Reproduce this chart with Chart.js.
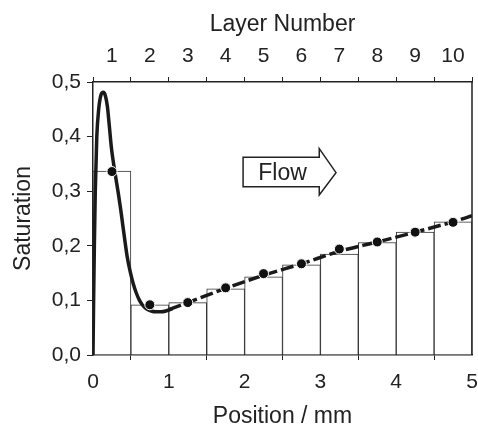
<!DOCTYPE html>
<html lang="en">
<head>
    <meta charset="UTF-8">
    <title>Saturation per layer</title>
    <script src="https://cdn.jsdelivr.net/npm/chart.js"></script>
    <style>
        html, body { margin: 0; padding: 0; background: #fff; }
        #wrap { width: 478px; height: 428px; }
    </style>
</head>
<body>
<div id="wrap"><canvas id="satChart"></canvas></div>
<script>
    // layer centres (mm) and labels for the top axis
    const layerPos = [0.25, 0.75, 1.25, 1.75, 2.25, 2.75, 3.25, 3.75, 4.25, 4.75];
    const layerLabels = ["1", "2", "3", "4", "5", "6", "7", "8", "9", "10"];

    // histogram of measured saturation per layer
    const layerSat = [0.337, 0.092, 0.096, 0.121, 0.143, 0.165, 0.185, 0.206, 0.225, 0.244];
    // dots at layer centres
    const dotSat = [0.336, 0.092, 0.096, 0.123, 0.149, 0.167, 0.194, 0.207, 0.225, 0.243];

    // solid profile near the inlet
    const solidX = [0, 0.008, 0.018, 0.03, 0.05, 0.075, 0.105, 0.136, 0.165, 0.19, 0.215, 0.245, 0.29, 0.334,
                    0.365, 0.39, 0.42, 0.45, 0.49, 0.53, 0.57, 0.61, 0.65, 0.70, 0.76, 0.83, 0.9, 0.97, 1.05];
    const solidY = [0, 0.1, 0.2, 0.3, 0.4, 0.45, 0.476, 0.481, 0.474, 0.455, 0.42, 0.377, 0.334, 0.296,
                    0.267, 0.241, 0.21, 0.181, 0.153, 0.131, 0.114, 0.101, 0.092, 0.085, 0.081, 0.079, 0.079, 0.081, 0.085];

    // dashed profile further downstream
    const dashX = [1.0, 1.25, 1.75, 2.25, 2.75, 3.25, 3.75, 4.25, 4.75, 5.0];
    const dashY = [0.083, 0.096, 0.122, 0.146, 0.167, 0.19, 0.207, 0.225, 0.244, 0.255];

    const fontFam = "'Liberation Sans', Arial, Helvetica, sans-serif";
    const ink = "#222";

    function zip(xs, ys) {
        return xs.map((x, i) => ({ x: x, y: ys[i] }));
    }

    // frame on the right + "Flow" arrow, placed in data units
    const flowArrow = { x0: 1.98, x1: 2.985, tip: 3.206, yTop: 0.362, yBot: 0.308, headTop: 0.378, headBot: 0.293, yMid: 0.334, textX: 2.5 };

    const extras = {
        id: "extras",
        afterDraw(chart) {
            const ctx = chart.ctx;
            const a = chart.chartArea;
            const xs = chart.scales.x;
            const ys = chart.scales.y;
            ctx.save();
            ctx.strokeStyle = ink;
            ctx.lineWidth = 1.5;
            ctx.beginPath();
            ctx.moveTo(a.right, a.top);
            ctx.lineTo(a.right, a.bottom);
            ctx.stroke();

            const f = flowArrow;
            ctx.beginPath();
            ctx.moveTo(xs.getPixelForValue(f.x0), ys.getPixelForValue(f.yTop));
            ctx.lineTo(xs.getPixelForValue(f.x1), ys.getPixelForValue(f.yTop));
            ctx.lineTo(xs.getPixelForValue(f.x1), ys.getPixelForValue(f.headTop));
            ctx.lineTo(xs.getPixelForValue(f.tip), ys.getPixelForValue(f.yMid));
            ctx.lineTo(xs.getPixelForValue(f.x1), ys.getPixelForValue(f.headBot));
            ctx.lineTo(xs.getPixelForValue(f.x1), ys.getPixelForValue(f.yBot));
            ctx.lineTo(xs.getPixelForValue(f.x0), ys.getPixelForValue(f.yBot));
            ctx.closePath();
            ctx.fillStyle = "#fff";
            ctx.fill();
            ctx.stroke();

            ctx.fillStyle = ink;
            ctx.font = "23px " + fontFam;
            ctx.textAlign = "center";
            ctx.textBaseline = "middle";
            ctx.fillText("Flow", xs.getPixelForValue(f.textX), ys.getPixelForValue(f.yMid) + 1);
            ctx.restore();
        }
    };

    Chart.defaults.font.family = fontFam;
    Chart.defaults.color = ink;

    const titleFont = { size: 23, lineHeight: 1.0 };
    const tickFont = { size: 21 };

    new Chart(document.getElementById("satChart"), {
        type: "bar",
        data: {
            datasets: [
                {
                    type: "scatter",
                    label: "Layer mean",
                    data: zip(layerPos, dotSat),
                    backgroundColor: "#111",
                    borderColor: "#fff",
                    borderWidth: 1,
                    pointRadius: 5,
                    order: 1
                },
                {
                    type: "line",
                    label: "Profile",
                    data: zip(solidX, solidY),
                    borderColor: "#1a1a1a",
                    borderWidth: 3.5,
                    pointRadius: 0,
                    cubicInterpolationMode: "monotone",
                    fill: false,
                    order: 2
                },
                {
                    type: "line",
                    label: "Profile (downstream)",
                    data: zip(dashX, dashY),
                    borderColor: "#1a1a1a",
                    borderWidth: 3.5,
                    borderDash: [13, 4],
                    pointRadius: 0,
                    cubicInterpolationMode: "monotone",
                    fill: false,
                    order: 2
                },
                {
                    label: "Layer saturation",
                    data: zip(layerPos, layerSat),
                    backgroundColor: "#fff",
                    borderColor: "#333",
                    borderWidth: 1,
                    barPercentage: 1,
                    categoryPercentage: 1,
                    order: 3
                }
            ]
        },
        options: {
            responsive: true,
            maintainAspectRatio: false,
            animation: false,
            layout: { padding: { left: 0, right: 6, top: 0, bottom: 0 } },
            plugins: {
                legend: { display: false },
                tooltip: { enabled: false }
            },
            scales: {
                x: {
                    type: "linear",
                    position: "bottom",
                    min: 0,
                    max: 5,
                    offset: false,
                    ticks: { stepSize: 1, padding: 10, font: tickFont, color: ink },
                    grid: { drawOnChartArea: false, tickLength: 5, color: ink },
                    border: { color: ink, width: 1.5 },
                    title: { display: true, text: "Position / mm", font: titleFont, padding: { top: 0, bottom: 0 }, color: ink },
                    afterFit: s => { s.height = 73; s.paddingLeft = 0; s.paddingRight = 0; }
                },
                xTop: {
                    type: "linear",
                    position: "top",
                    min: 0,
                    max: 5,
                    offset: false,
                    afterBuildTicks: s => { s.ticks = layerPos.map(v => ({ value: v })); },
                    ticks: {
                        autoSkip: false,
                        maxRotation: 0,
                        padding: 8,
                        font: tickFont,
                        color: ink,
                        callback: (v, i) => layerLabels[i]
                    },
                    grid: { drawOnChartArea: false, offset: true, tickLength: 5, color: ink },
                    border: { color: ink, width: 1.5 },
                    title: { display: true, text: "Layer Number", font: titleFont, padding: { top: 13, bottom: 0 }, color: ink },
                    afterFit: s => { s.height = 82; s.paddingLeft = 0; s.paddingRight = 0; }
                },
                y: {
                    min: 0,
                    max: 0.5,
                    ticks: {
                        stepSize: 0.1,
                        padding: 6,
                        font: tickFont,
                        color: ink,
                        callback: v => v.toFixed(1).replace(".", ",")
                    },
                    grid: { drawOnChartArea: false, tickLength: 6, color: ink },
                    border: { color: ink, width: 1.5 },
                    title: { display: true, text: "Saturation", font: titleFont, padding: { top: 12, bottom: 0 }, color: ink },
                    afterFit: s => { s.width = 93; }
                }
            }
        },
        plugins: [extras]
    });
</script>
</body>
</html>
